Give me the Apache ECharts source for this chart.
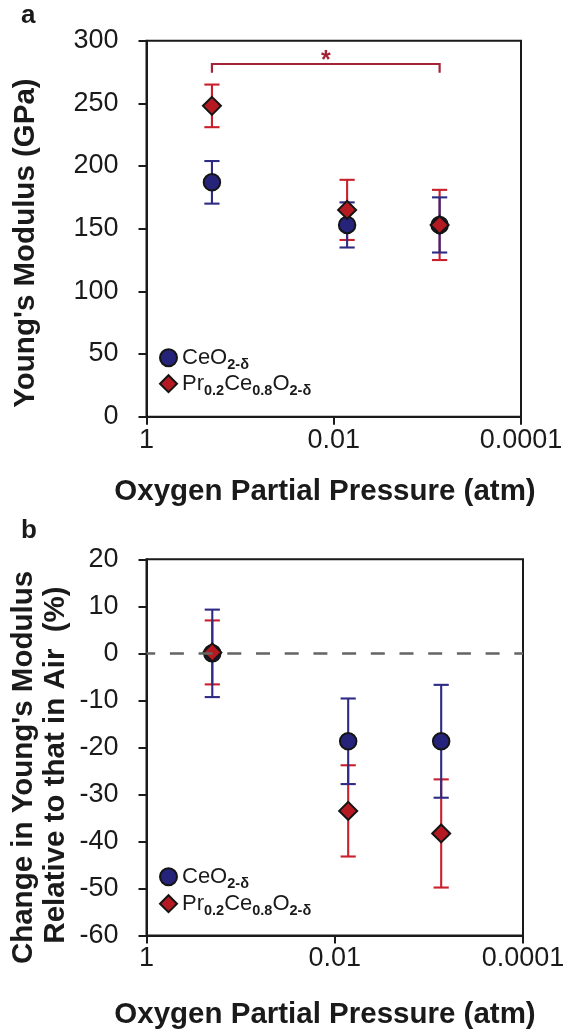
<!DOCTYPE html>
<html><head><meta charset="utf-8">
<script src="https://cdn.jsdelivr.net/npm/echarts@6/dist/echarts.min.js"></script>
<style>html,body{margin:0;padding:0;background:#fff}#c{width:576px;height:1032px}</style>
</head><body><div id="c"></div>
<script>
// ---- data ----
const pressure = [0.2, 0.0072, 0.00074];          // atm
const modulusCe = [187, 153, 153];                // GPa
const modulusCeErr = [17, 18, 22];
const modulusPr = [248, 165, 153];
const modulusPrErr = [17, 24, 28];
const changeCe = [0, -18.7, -18.7];               // %
const changeCeErr = [9.3, 9.1, 12];
const changePr = [0.2, -33.5, -38.3];
const changePrErr = [6.8, 9.7, 11.5];
const xTickValues = [1, 0.01, 0.0001];
const xTickLabels = ['1', '0.01', '0.0001'];
const bracketPressure = [0.2, 0.00074];
const bracketLevels = [281.4, 274.5];   // bar, tick end
const nameCe = 'CeO2-δ';
const namePr = 'Pr0.2Ce0.8O2-δ';

// ---- style ----
const F = '"Liberation Sans", Arial, sans-serif';
const INK = '#1a1a1a';
const CE_FILL = '#26237a', PR_FILL = '#b51a22';
const CE_BAR = '#2e2b84', PR_BAR = '#c9202c';
const SIG = '#a42338';

const lg = p => Math.log10(p);
function xLabel(v) {
  for (let i = 0; i < xTickValues.length; i++) {
    if (Math.abs(lg(xTickValues[i]) - v) < 1e-6) return xTickLabels[i];
  }
  return '';
}
function pts(vals) { return pressure.map((p, i) => [lg(p), vals[i]]); }
function errPts(vals, errs) { return pressure.map((p, i) => [lg(p), vals[i] - errs[i], vals[i] + errs[i]]); }

function errRender(color) {
  return function (params, api) {
    const x = api.value(0), lo = api.value(1), hi = api.value(2);
    const t = api.coord([x, hi]), b = api.coord([x, lo]);
    const hw = 7.6;
    const st = { stroke: color, lineWidth: 2.1 };
    return { type: 'group', children: [
      { type: 'line', shape: { x1: t[0], y1: t[1], x2: b[0], y2: b[1] }, style: st },
      { type: 'line', shape: { x1: t[0] - hw, y1: t[1], x2: t[0] + hw, y2: t[1] }, style: st },
      { type: 'line', shape: { x1: b[0] - hw, y1: b[1], x2: b[0] + hw, y2: b[1] }, style: st }
    ]};
  };
}

function xAxis(gi) {
  return { type: 'value', gridIndex: gi, min: -4, max: 0, interval: 2, inverse: true,
    axisLine: { show: true, onZero: false, lineStyle: { color: INK, width: 2 } },
    axisTick: { show: true, length: 8, lineStyle: { color: INK, width: 2 } },
    axisLabel: { margin: 10, fontSize: 27, fontFamily: F, color: INK, formatter: xLabel },
    splitLine: { show: false } };
}
function yAxis(gi, min, max, interval) {
  return { type: 'value', gridIndex: gi, min: min, max: max, interval: interval,
    axisLine: { show: true, onZero: false, lineStyle: { color: INK, width: 2 } },
    axisTick: { show: true, length: 8, lineStyle: { color: INK, width: 2 } },
    axisLabel: { margin: 28, fontSize: 27, fontFamily: F, color: INK },
    splitLine: { show: false } };
}

const ceStyle = { color: CE_FILL, borderColor: '#141414', borderWidth: 2, opacity: 1 };
const prStyle = { color: PR_FILL, borderColor: '#141414', borderWidth: 2, opacity: 1 };

function panelSeries(gi, ceV, ceE, prV, prE, extra) {
  const s = [
    { name: 'errPr' + gi, type: 'custom', xAxisIndex: gi, yAxisIndex: gi, renderItem: errRender(PR_BAR),
      encode: { x: 0, y: [1, 2] }, data: errPts(prV, prE), silent: true },
    { name: 'errCe' + gi, type: 'custom', xAxisIndex: gi, yAxisIndex: gi, renderItem: errRender(CE_BAR),
      encode: { x: 0, y: [1, 2] }, data: errPts(ceV, ceE), silent: true },
    { name: nameCe, type: 'scatter', xAxisIndex: gi, yAxisIndex: gi, symbol: 'circle', symbolSize: 16.5,
      itemStyle: ceStyle, data: pts(ceV), silent: true },
    { name: namePr, type: 'scatter', xAxisIndex: gi, yAxisIndex: gi, symbol: 'diamond', symbolSize: 18,
      itemStyle: prStyle, data: pts(prV), silent: true }
  ];
  if (extra) extra(s);
  return s;
}

const rich = {
  n: { fontSize: 22, fontFamily: F, color: INK, lineHeight: 30, verticalAlign: 'middle' },
  s: { fontSize: 14.5, fontWeight: 'bold', fontFamily: F, color: INK, lineHeight: 13, verticalAlign: 'bottom' }
};
function legendFmt(n) {
  if (n === nameCe) return '{n|CeO}{s|2-δ}';
  return '{n|Pr}{s|0.2}{n|Ce}{s|0.8}{n|O}{s|2-δ}';
}
function legend(top, gap) {
  return { orient: 'vertical', left: 159, top: top, padding: 0, itemGap: gap, itemWidth: 17, itemHeight: 17,
    selectedMode: false,
    data: [{ name: nameCe, icon: 'circle' }, { name: namePr, icon: 'diamond' }],
    formatter: legendFmt, textStyle: { rich: rich } };
}

const seriesA = panelSeries(0, modulusCe, modulusCeErr, modulusPr, modulusPrErr, s => {
  s.push({ name: 'sig', type: 'custom', xAxisIndex: 0, yAxisIndex: 0, silent: true,
    encode: { x: [0, 1], y: [2, 3] },
    data: [[lg(bracketPressure[0]), lg(bracketPressure[1]), bracketLevels[0], bracketLevels[1]]],
    renderItem: function (params, api) {
      const a1 = api.coord([api.value(0), api.value(2)]);
      const a2 = api.coord([api.value(1), api.value(2)]);
      const t1 = api.coord([api.value(0), api.value(3)]);
      const t2 = api.coord([api.value(1), api.value(3)]);
      return { type: 'group', children: [
        { type: 'polyline', shape: { points: [t1, a1, a2, t2] }, style: { stroke: SIG, lineWidth: 2.2, fill: null } },
        { type: 'text', style: { text: '*', x: (a1[0] + a2[0]) / 2, y: a1[1] - 3, align: 'center', verticalAlign: 'middle',
          fill: SIG, font: 'bold 25px ' + F } }
      ]};
    } });
});
const seriesB = panelSeries(1, changeCe, changeCeErr, changePr, changePrErr, s => {
  s[0].markLine = { silent: true, symbol: ['none', 'none'], label: { show: false }, animation: false,
    lineStyle: { color: '#646464', width: 2.5, type: [14, 14.7], dashOffset: 5.3 },
    emphasis: { disabled: true },
    data: [{ yAxis: 0 }] };
});

const chart = echarts.init(document.getElementById('c'), null, { renderer: 'canvas' });
chart.setOption({
  animation: false,
  backgroundColor: '#fff',
  grid: [
    { left: 146.5, top: 40.7, width: 374.5, height: 376, show: true, borderColor: INK, borderWidth: 2, containLabel: false },
    { left: 146.5, top: 559.3, width: 376.5, height: 376.2, show: true, borderColor: INK, borderWidth: 2, containLabel: false }
  ],
  xAxis: [xAxis(0), xAxis(1)],
  yAxis: [yAxis(0, 0, 300, 50), yAxis(1, -60, 20, 10)],
  legend: [legend(346.7, 0), legend(865.7, 1)],
  series: seriesA.concat(seriesB),
  graphic: [
    { type: 'text', x: 21, y: 15.5, style: { text: 'a', font: 'bold 26px ' + F, fill: INK, align: 'left', verticalAlign: 'middle' } },
    { type: 'text', x: 21, y: 531, style: { text: 'b', font: 'bold 26px ' + F, fill: INK, align: 'left', verticalAlign: 'middle' } },
    { type: 'text', x: 25.7, y: 243, rotation: Math.PI / 2,
      style: { text: "Young's Modulus (GPa)", font: 'bold 29.5px ' + F, fill: INK, align: 'center', verticalAlign: 'middle' } },
    { type: 'text', x: 24, y: 767.5, rotation: Math.PI / 2,
      style: { text: "Change in Young's Modulus", font: 'bold 29.5px ' + F, fill: INK, align: 'center', verticalAlign: 'middle' } },
    { type: 'text', x: 55.7, y: 765, rotation: Math.PI / 2,
      style: { text: "Relative to that in Air  (%)", font: 'bold 29.5px ' + F, fill: INK, align: 'center', verticalAlign: 'middle' } },
    { type: 'text', x: 325, y: 492, style: { text: 'Oxygen Partial Pressure (atm)', font: 'bold 29.5px ' + F, fill: INK, align: 'center', verticalAlign: 'middle' } },
    { type: 'text', x: 325, y: 1015, style: { text: 'Oxygen Partial Pressure (atm)', font: 'bold 29.5px ' + F, fill: INK, align: 'center', verticalAlign: 'middle' } }
  ]
});
</script>
</body></html>
